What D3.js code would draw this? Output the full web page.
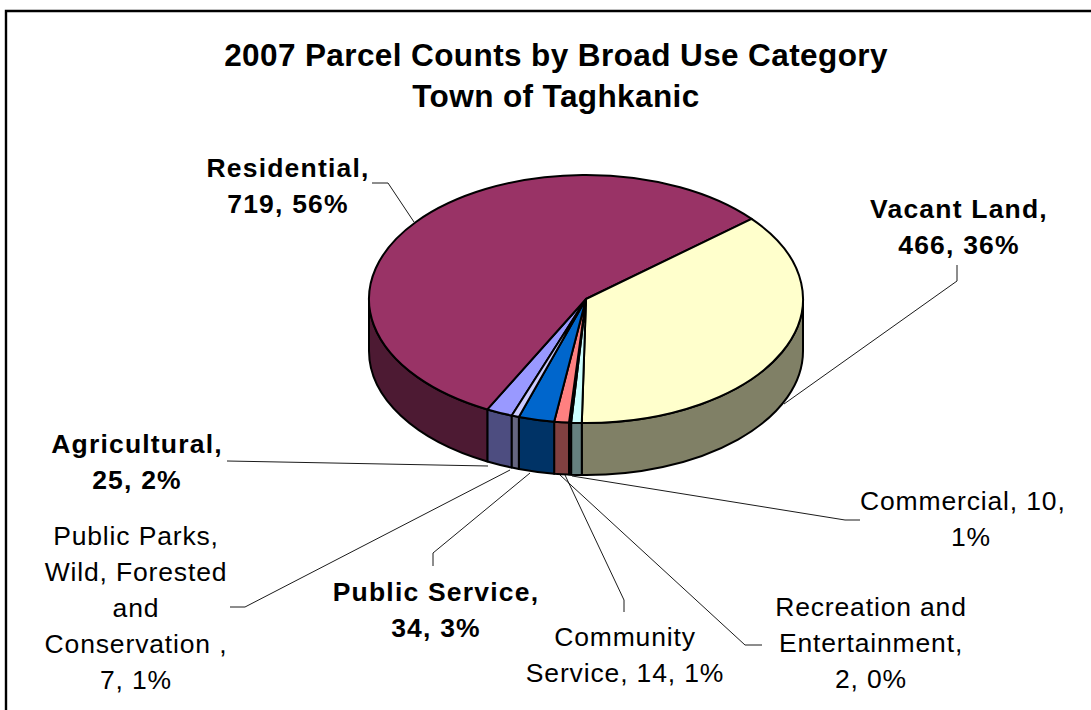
<!DOCTYPE html>
<html><head><meta charset="utf-8">
<script src="https://cdnjs.cloudflare.com/ajax/libs/d3/7.8.5/d3.min.js"></script>
<style>html,body{margin:0;padding:0;background:#fff}svg{display:block}text{font-family:"Liberation Sans",Arial,sans-serif;fill:#000;white-space:pre}</style>
</head><body><svg id="c" width="1091" height="710"></svg>
<script>
const categories=["Agricultural","Residential","Vacant Land","Commercial","Recreation and Entertainment","Community Service","Public Service","Public Parks, Wild, Forested and Conservation"];
const counts=[25,719,466,10,2,14,34,7];
const topColors=["#9999FF","#993366","#FFFFCC","#CCFFFF","#660066","#FF8080","#0066CC","#CCCCFF"];
const sideColors=["#4D4D80","#4D1A33","#808066","#668080","#330033","#804040","#003366","#666680"];
const titleLines=["2007 Parcel Counts by Broad Use Category","Town of Taghkanic"];
const labels=[
 {lines:["Residential,","719, 56%"],x:288,y:168,b:1},
 {lines:["Vacant Land,","466, 36%"],x:959,y:209,b:1},
 {lines:["Agricultural,","25, 2%"],x:137,y:444,b:1},
 {lines:["Public Parks,","Wild, Forested","and","Conservation ,","7, 1%"],x:136,y:536,b:0},
 {lines:["Public Service,","34, 3%"],x:436,y:592,b:1},
 {lines:["Community","Service, 14, 1%"],x:625,y:637,b:0},
 {lines:["Recreation and","Entertainment,","2, 0%"],x:871,y:607,b:0},
 {lines:["Commercial, 10,  ","1%"],x:971,y:501,b:0}];
const leaders=[
 [[372,183],[388,183],[414,222]],
 [[957,265],[957,281],[784,404]],
 [[227,461],[488,466]],
 [[230,607],[245,607],[510,470]],
 [[433,566],[433,553],[530,473]],
 [[624,612],[624,600],[565,475]],
 [[762,645],[745,645],[560,475]],
 [[860,520],[845,520],[572,476]]];

const W=1091,H=710,cx=586,cy=299,rx=217,ry=124,depth=52;
const svg=d3.select("#c");
svg.append("path").attr("d",`M6,${H}V11H${W}`).attr("fill","none").attr("stroke","#000").attr("stroke-width",2.4);
svg.append("g").selectAll("text").data(titleLines).join("text")
 .attr("x",556).attr("y",(d,i)=>66+i*41).attr("text-anchor","middle")
 .attr("font-size",31.5).attr("letter-spacing",0.4).attr("font-weight","bold").text(d=>d);
const deg=Math.PI/180;
const pie=d3.pie().sort(null).value(d=>d).startAngle(-160*deg).endAngle(200*deg);
const arcs=pie(counts);
const px=a=>cx+rx*Math.sin(a), py=a=>cy-ry*Math.cos(a);
const strokeW=2;
const clip=(a)=>{const v=[];for(const k of [-1,0,1]){const s=Math.max(a.startAngle+k*2*Math.PI,90*deg),e=Math.min(a.endAngle+k*2*Math.PI,270*deg);if(e>s)v.push([s,e]);}return v;};
const gs=svg.append("g");
arcs.forEach((a,i)=>{clip(a).forEach(([s,e])=>{
  const d=`M${px(s)},${py(s)}A${rx},${ry} 0 0 1 ${px(e)},${py(e)}L${px(e)},${py(e)+depth}A${rx},${ry} 0 0 0 ${px(s)},${py(s)+depth}Z`;
  gs.append("path").attr("d",d).attr("fill",sideColors[i]).attr("stroke","#000").attr("stroke-width",strokeW).attr("stroke-linejoin","round");
});});
const ratio=ry/rx, arc=d3.arc().innerRadius(0).outerRadius(rx);
svg.append("g").attr("transform",`translate(${cx},${cy}) scale(1,${ratio})`)
 .selectAll("path").data(arcs).join("path").attr("d",arc)
 .attr("fill",(d,i)=>topColors[i]).attr("stroke","#000").attr("stroke-width",strokeW)
 .attr("stroke-linejoin","round").attr("vector-effect","non-scaling-stroke");
const line=d3.line();
svg.append("g").selectAll("path").data(leaders).join("path").attr("d",line)
 .attr("fill","none").attr("stroke","#000").attr("stroke-width",0.9);
labels.forEach(l=>{
 const t=svg.append("text").attr("text-anchor","middle").attr("font-size",26.5)
   .attr("letter-spacing",l.b?1.2:0.85).attr("font-weight",l.b?"bold":"normal");
 l.lines.forEach((s,i)=>t.append("tspan").attr("x",l.x).attr("y",l.y+9+i*36).text(s));
});
</script></body></html>
